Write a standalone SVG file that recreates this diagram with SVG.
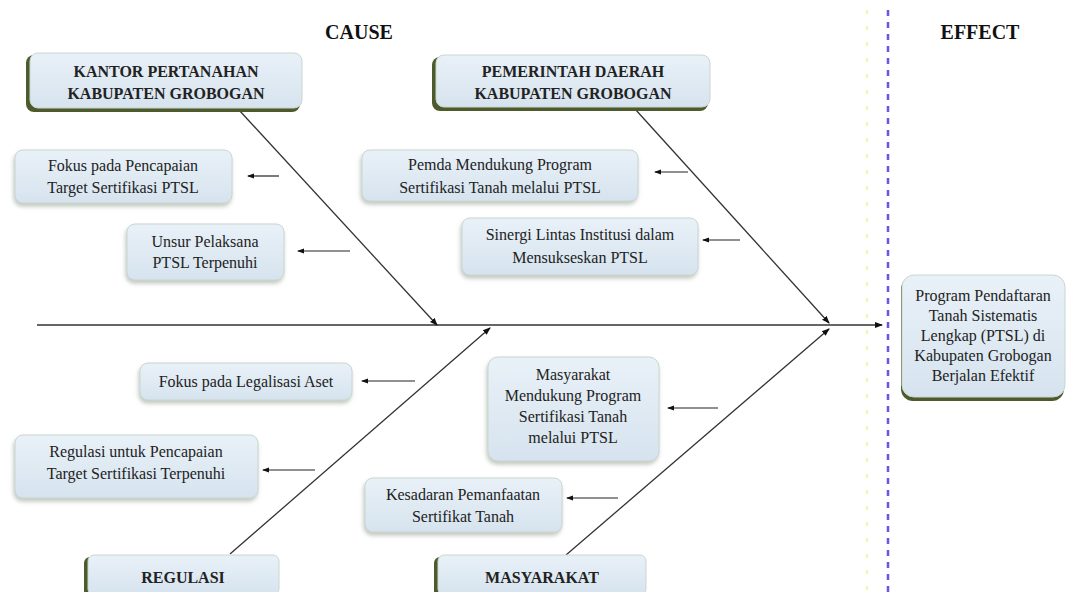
<svg xmlns="http://www.w3.org/2000/svg" width="1070" height="592" viewBox="0 0 1070 592">
<defs>
<linearGradient id="g" x1="0" y1="0" x2="0" y2="1">
<stop offset="0" stop-color="#e9f1f8"/>
<stop offset="1" stop-color="#d6e3ee"/>
</linearGradient>
<filter id="sh" x="-10%" y="-10%" width="125%" height="130%">
<feDropShadow dx="-1" dy="3" stdDeviation="2" flood-color="#8a9a8a" flood-opacity="0.55"/>
</filter>
<marker id="ah" markerWidth="8" markerHeight="8" refX="7" refY="4" orient="auto" markerUnits="userSpaceOnUse">
<path d="M0,1 L8,4 L0,7 Z" fill="#111"/>
</marker>
<marker id="sa" markerWidth="7" markerHeight="6" refX="6" refY="3" orient="auto" markerUnits="userSpaceOnUse">
<path d="M0,0.5 L7,3 L0,5.5 Z" fill="#111"/>
</marker>
</defs>
<style>
.box{fill:url(#g);stroke:#c9d6d0;stroke-width:1;filter:url(#sh)}
.hdrback{fill:#4d5a2c}
.hdr{fill:url(#g);stroke:#c9d6d0;stroke-width:1}
.t{font-family:"Liberation Serif","Times New Roman",serif;font-size:16px;fill:#222;text-anchor:middle}
.b{font-family:"Liberation Serif","Times New Roman",serif;font-size:16px;font-weight:bold;fill:#222;text-anchor:middle}
.ttl{font-family:"Liberation Serif","Times New Roman",serif;font-size:20px;font-weight:bold;fill:#111;text-anchor:middle}
.ln{stroke:#333;stroke-width:1.3;fill:none}
.br{stroke:#222;stroke-width:1.2;fill:none}
</style>
<rect width="1070" height="592" fill="#fff"/>
<text class="ttl" x="359" y="39">CAUSE</text>
<text class="ttl" x="980" y="39">EFFECT</text>
<line x1="867" y1="10" x2="867" y2="592" stroke="#faf3b8" stroke-width="2.5" stroke-dasharray="4,12"/>
<line x1="888" y1="10" x2="888" y2="592" stroke="#6656e0" stroke-width="2.5" stroke-dasharray="6,6"/>

<g id="connectors">
<line class="ln" x1="37" y1="325" x2="882" y2="325" marker-end="url(#ah)"/>
<line class="ln" x1="239" y1="110" x2="437" y2="325" marker-end="url(#ah)"/>
<line class="ln" x1="635" y1="109" x2="829" y2="323" marker-end="url(#ah)"/>
<line class="ln" x1="230" y1="554" x2="490" y2="328" marker-end="url(#ah)"/>
<line class="ln" x1="566" y1="555" x2="829" y2="329" marker-end="url(#ah)"/>
<line class="br" x1="279" y1="176" x2="248" y2="176" marker-end="url(#sa)"/>
<line class="br" x1="350" y1="251" x2="298" y2="251" marker-end="url(#sa)"/>
<line class="br" x1="688" y1="172" x2="655" y2="172" marker-end="url(#sa)"/>
<line class="br" x1="740" y1="240" x2="703" y2="240" marker-end="url(#sa)"/>
<line class="br" x1="415" y1="381" x2="362" y2="381" marker-end="url(#sa)"/>
<line class="br" x1="315" y1="470" x2="263" y2="470" marker-end="url(#sa)"/>
<line class="br" x1="718" y1="408" x2="668" y2="408" marker-end="url(#sa)"/>
<line class="br" x1="618" y1="498" x2="567" y2="498" marker-end="url(#sa)"/>
</g>

<g id="kantor">
<rect class="hdrback" x="26" y="55" width="274" height="57" rx="8"/>
<rect class="hdr" x="30" y="53" width="272" height="55" rx="8"/>
<text class="b" x="166" y="77">KANTOR PERTANAHAN</text>
<text class="b" x="166" y="99">KABUPATEN GROBOGAN</text>
</g>
<g id="pemda">
<rect class="hdrback" x="432" y="57" width="276" height="54" rx="8"/>
<rect class="hdr" x="436" y="55" width="274" height="52" rx="8"/>
<text class="b" x="573" y="77">PEMERINTAH DAERAH</text>
<text class="b" x="573" y="99">KABUPATEN GROBOGAN</text>
</g>
<g id="fokus-pencapaian">
<rect class="box" x="15" y="150" width="217" height="53" rx="8"/>
<text class="t" x="123" y="171">Fokus pada Pencapaian</text>
<text class="t" x="123" y="193">Target Sertifikasi PTSL</text>
</g>
<g id="unsur">
<rect class="box" x="127" y="224" width="157" height="56" rx="8"/>
<text class="t" x="205" y="247">Unsur Pelaksana</text>
<text class="t" x="205" y="268">PTSL Terpenuhi</text>
</g>
<g id="pemda-mendukung">
<rect class="box" x="362" y="150" width="276" height="51" rx="8"/>
<text class="t" x="500" y="170">Pemda Mendukung Program</text>
<text class="t" x="500" y="193">Sertifikasi Tanah melalui PTSL</text>
</g>
<g id="sinergi">
<rect class="box" x="462" y="218" width="236" height="57" rx="8"/>
<text class="t" x="580" y="240">Sinergi Lintas Institusi dalam</text>
<text class="t" x="580" y="263">Mensukseskan PTSL</text>
</g>
<g id="legalisasi">
<rect class="box" x="140" y="363" width="212" height="37" rx="8"/>
<text class="t" x="246" y="387">Fokus pada Legalisasi Aset</text>
</g>
<g id="regulasi-pencapaian">
<rect class="box" x="15" y="435" width="243" height="63" rx="8"/>
<text class="t" x="136" y="457">Regulasi untuk Pencapaian</text>
<text class="t" x="136" y="479">Target Sertifikasi Terpenuhi</text>
</g>
<g id="masyarakat-mendukung">
<rect class="box" x="488" y="357" width="171" height="104" rx="10"/>
<text class="t" x="573" y="380">Masyarakat</text>
<text class="t" x="573" y="401">Mendukung Program</text>
<text class="t" x="573" y="422">Sertifikasi Tanah</text>
<text class="t" x="573" y="443">melalui PTSL</text>
</g>
<g id="kesadaran">
<rect class="box" x="365" y="478" width="197" height="54" rx="8"/>
<text class="t" x="463" y="500">Kesadaran Pemanfaatan</text>
<text class="t" x="463" y="522">Sertifikat Tanah</text>
</g>
<g id="regulasi">
<rect class="hdrback" x="84" y="557" width="193" height="40" rx="6"/>
<rect class="hdr" x="88" y="555" width="191" height="40" rx="6"/>
<text class="b" x="183" y="583">REGULASI</text>
</g>
<g id="masyarakat">
<rect class="hdrback" x="434" y="557" width="210" height="40" rx="6"/>
<rect class="hdr" x="438" y="555" width="208" height="40" rx="6"/>
<text class="b" x="542" y="583">MASYARAKAT</text>
</g>
<g id="effect">
<rect class="hdrback" x="901" y="277" width="163" height="124" rx="12"/>
<rect class="hdr" x="902" y="275" width="163" height="122" rx="12"/>
<text class="t" x="983" y="301">Program Pendaftaran</text>
<text class="t" x="983" y="321">Tanah Sistematis</text>
<text class="t" x="983" y="341">Lengkap (PTSL) di</text>
<text class="t" x="983" y="361">Kabupaten Grobogan</text>
<text class="t" x="983" y="381">Berjalan Efektif</text>
</g>
</svg>
